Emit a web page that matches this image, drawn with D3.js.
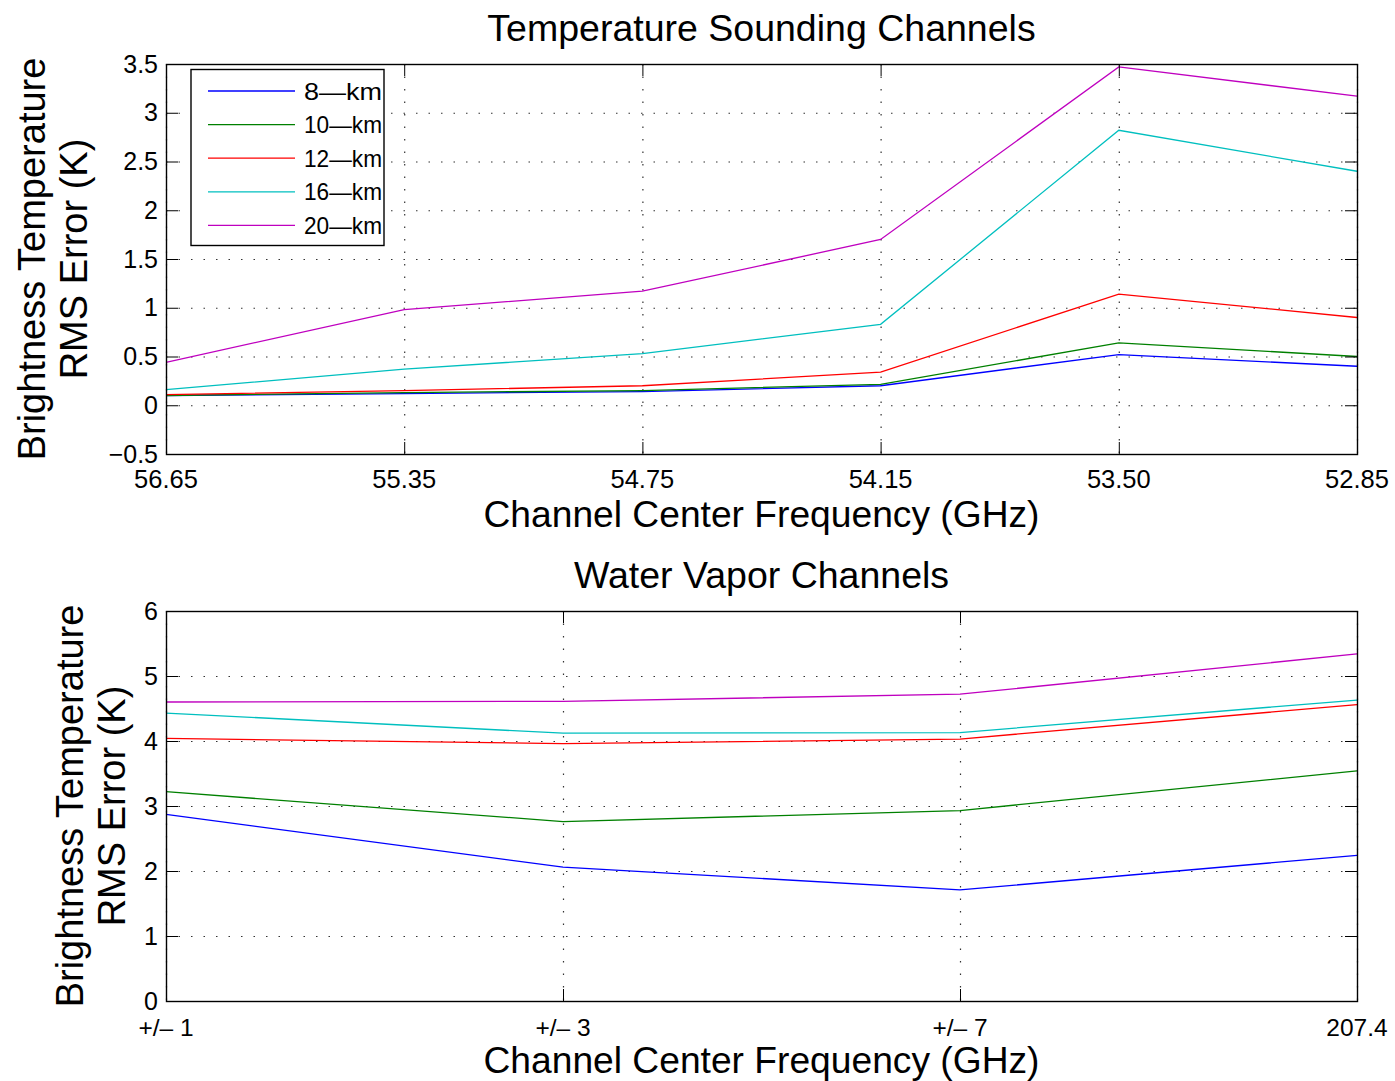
<!DOCTYPE html>
<html><head><meta charset="utf-8">
<script src="https://cdn.jsdelivr.net/npm/d3@7"></script>
<style>
body{margin:0;background:#fff;}
text{font-family:"Liberation Sans",Arial,Helvetica,sans-serif;fill:#000;}
</style></head>
<body>
<svg id="chart" width="1395" height="1081"></svg>
<script>
// ---- Data ----
const seriesNames = ["8\u2014km","10\u2014km","12\u2014km","16\u2014km","20\u2014km"];
const seriesColors = ["#0000ff","#008000","#ff0000","#00bfbf","#bf00bf"];

const tempCategories = ["56.65","55.35","54.75","54.15","53.50","52.85"];
const temp8km  = [0.10,0.12,0.14,0.20,0.52,0.40];
const temp10km = [0.10,0.13,0.15,0.215,0.64,0.50];
const temp12km = [0.11,0.15,0.20,0.34,1.14,0.90];
const temp16km = [0.16,0.37,0.53,0.83,2.82,2.40];
const temp20km = [0.44,0.98,1.17,1.70,3.47,3.17];
const tempYTicks = [-0.5,0,0.5,1,1.5,2,2.5,3,3.5];

const wvCategories = ["+/\u2013 1","+/\u2013 3","+/\u2013 7","207.4"];
const wv8km  = [2.87,2.06,1.71,2.24];
const wv10km = [3.22,2.76,2.93,3.54];
const wv12km = [4.04,3.96,4.03,4.56];
const wv16km = [4.43,4.12,4.13,4.63];
const wv20km = [4.60,4.61,4.72,5.34];
const wvYTicks = [0,1,2,3,4,5,6];

const svg = d3.select("#chart");
const fmt = v => (v < 0 ? "\u2212" : "") + String(Math.abs(v));

function panel(opts){
  const {left,right,top,bottom,cats,series,yDomain,yTicks,title,titleY,xlabY,tickY,tickFont,yl1X,yl2X,legend} = opts;
  const x = d3.scalePoint().domain(cats).range([left,right]);
  const y = d3.scaleLinear().domain(yDomain).range([bottom,top]);
  const g = svg.append("g");
  const tl = 12;
  // grid
  g.selectAll(".hg").data(yTicks).join("line")
    .attr("x1",left).attr("x2",right).attr("y1",d=>y(d)+0.5).attr("y2",d=>y(d)+0.5)
    .attr("stroke","#333").attr("stroke-width",1.2).attr("stroke-dasharray","1.5,11");
  g.selectAll(".vg").data(cats).join("line")
    .attr("y1",top).attr("y2",bottom).attr("x1",d=>x(d)+0.5).attr("x2",d=>x(d)+0.5)
    .attr("stroke","#333").attr("stroke-width",1.2).attr("stroke-dasharray","1.5,11");
  // lines
  const line = d3.line().x((d,i)=>x(cats[i])).y(d=>y(d));
  series.forEach((s,i)=>{
    g.append("path").attr("d",line(s)).attr("fill","none")
      .attr("stroke",seriesColors[i]).attr("stroke-width",1.3);
  });
  // ticks (inward, all four sides)
  yTicks.forEach(t=>{
    g.append("line").attr("x1",left).attr("x2",left+tl).attr("y1",y(t)+0.5).attr("y2",y(t)+0.5).attr("stroke","#000");
    g.append("line").attr("x1",right-tl).attr("x2",right).attr("y1",y(t)+0.5).attr("y2",y(t)+0.5).attr("stroke","#000");
  });
  cats.forEach(c=>{
    g.append("line").attr("y1",bottom).attr("y2",bottom-tl).attr("x1",x(c)+0.5).attr("x2",x(c)+0.5).attr("stroke","#000");
    g.append("line").attr("y1",top).attr("y2",top+tl).attr("x1",x(c)+0.5).attr("x2",x(c)+0.5).attr("stroke","#000");
  });
  // box
  g.append("rect").attr("x",left+0.5).attr("y",top+0.5).attr("width",right-left).attr("height",bottom-top)
    .attr("fill","none").attr("stroke","#000").attr("stroke-width",1.4);
  // tick labels
  g.selectAll(".yl").data(yTicks).join("text")
    .attr("x",left-8).attr("y",d=>y(d)+8.5).attr("text-anchor","end").attr("font-size",25).text(fmt);
  g.selectAll(".xl").data(cats).join("text")
    .attr("x",d=>x(d)).attr("y",tickY).attr("text-anchor","middle").attr("font-size",tickFont).text(d=>d);
  // labels
  const cx = (left+right)/2, cy=(top+bottom)/2;
  g.append("text").attr("x",cx).attr("y",titleY).attr("text-anchor","middle").attr("font-size",37.5).text(title);
  g.append("text").attr("x",cx).attr("y",xlabY).attr("text-anchor","middle").attr("font-size",37.2).text("Channel Center Frequency (GHz)");
  g.append("text").attr("transform",`translate(${yl1X},${cy}) rotate(-90)`).attr("text-anchor","middle").attr("font-size",38).text("Brightness Temperature");
  g.append("text").attr("transform",`translate(${yl2X},${cy}) rotate(-90)`).attr("text-anchor","middle").attr("font-size",38).text("RMS Error (K)");
  if(legend){
    const lg = g.append("g");
    lg.append("rect").attr("x",191).attr("y",69.5).attr("width",193).attr("height",176)
      .attr("fill","#fff").attr("stroke","#000").attr("stroke-width",1.4);
    seriesNames.forEach((n,i)=>{
      const yy = 91 + i*33.6;
      lg.append("line").attr("x1",208).attr("x2",295).attr("y1",yy).attr("y2",yy).attr("stroke",seriesColors[i]).attr("stroke-width",1.3);
      lg.append("text").attr("x",304).attr("y",yy+8.5).attr("font-size",24).attr("textLength",78).attr("lengthAdjust","spacingAndGlyphs").text(n);
    });
  }
}

panel({left:166,right:1357,top:64,bottom:454,cats:tempCategories,
  series:[temp8km,temp10km,temp12km,temp16km,temp20km],yDomain:[-0.5,3.5],yTicks:tempYTicks,
  title:"Temperature Sounding Channels",titleY:41,xlabY:527,tickY:488,tickFont:25.5,yl1X:45,yl2X:87,legend:true});

panel({left:166,right:1357,top:611,bottom:1001,cats:wvCategories,
  series:[wv8km,wv10km,wv12km,wv16km,wv20km],yDomain:[0,6],yTicks:wvYTicks,
  title:"Water Vapor Channels",titleY:588,xlabY:1073,tickY:1036,tickFont:24.5,yl1X:83,yl2X:125,legend:false});
</script>
</body></html>
